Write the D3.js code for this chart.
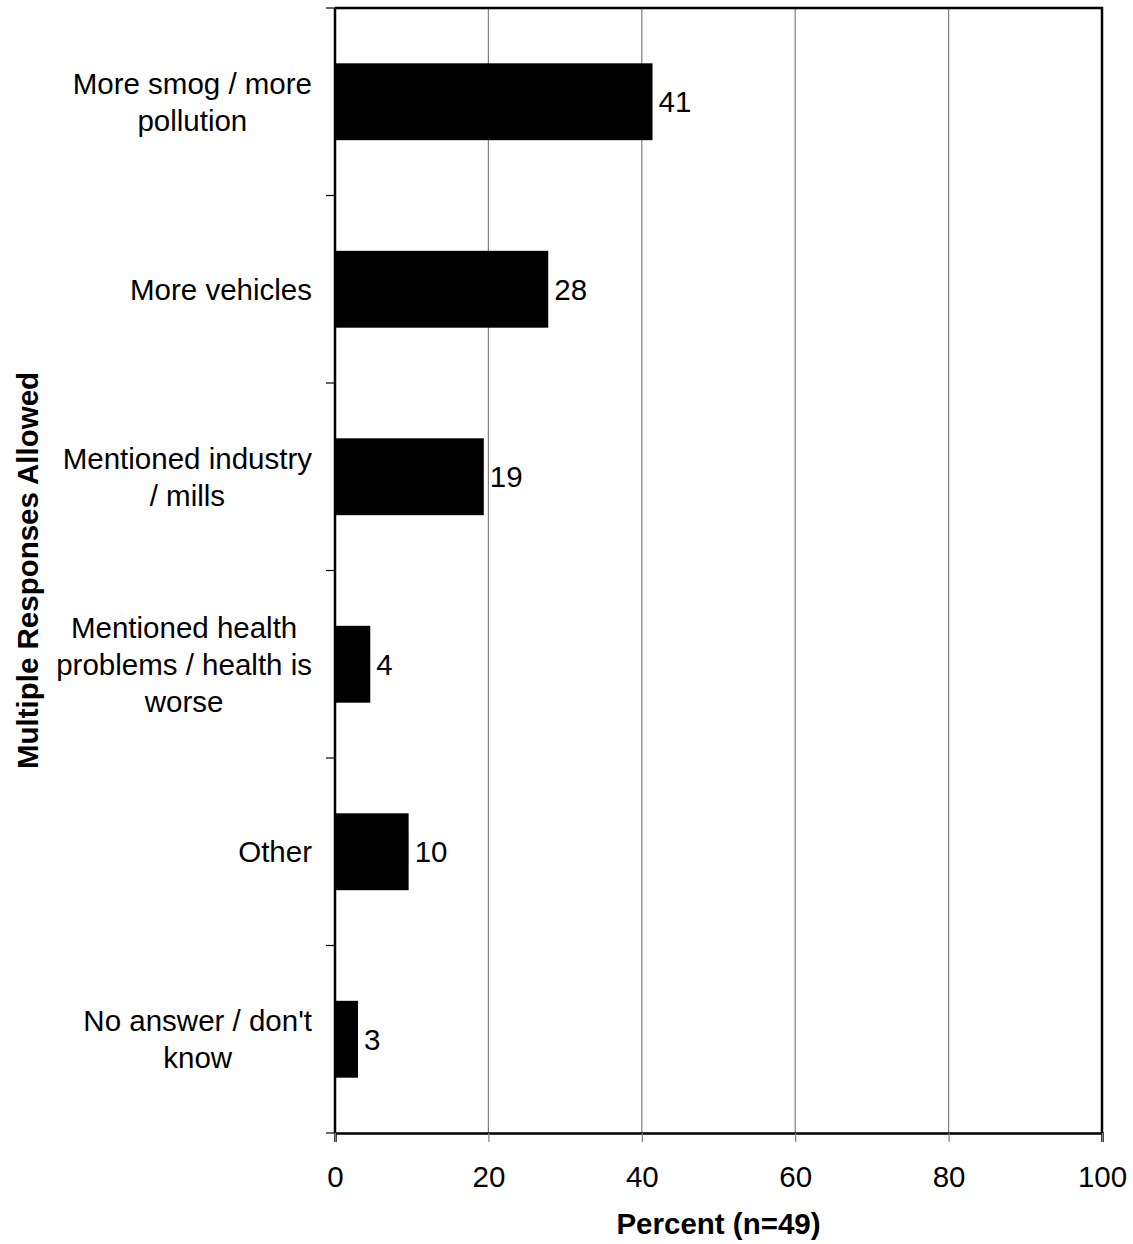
<!DOCTYPE html>
<html>
<head>
<meta charset="utf-8">
<script src="https://cdn.jsdelivr.net/npm/d3@7"></script>
<style>
  body { margin: 0; background: #fff; }
  text { font-family: "Liberation Sans", Arial, sans-serif; fill: #000; }
</style>
</head>
<body>
<div class="chart"></div>
<script>
var width = 1133, height = 1244;
var margin = { top: 8, right: 31, bottom: 110, left: 335 };
var fontSize = '29.5px';

// data
var categories = [
    ["More smog / more", "pollution"],
    ["More vehicles"],
    ["Mentioned industry", "/ mills"],
    ["Mentioned health", "problems / health is", "worse"],
    ["Other"],
    ["No answer / don't", "know"]
];
var values = [41.4, 27.8, 19.4, 4.6, 9.6, 3.0];
var valueLabels = ["41", "28", "19", "4", "10", "3"];
var xTicks = [0, 20, 40, 60, 80, 100];

var svg = d3.select('.chart')
    .append('svg')
    .attr('width', width)
    .attr('height', height);

var plotW = width - margin.left - margin.right;
var plotH = height - margin.top - margin.bottom - 1;

var g = svg.append('g')
    .attr('transform', 'translate(' + margin.left + ',' + margin.top + ')');

var x = d3.scaleLinear().domain([0, 100]).range([0, plotW]);
var y = d3.scaleBand()
    .domain(d3.range(categories.length))
    .range([0, plotH])
    .paddingInner(0.59)
    .paddingOuter(0.295);

// gridlines
g.selectAll('.grid')
    .data(xTicks.slice(1, -1))
    .enter()
    .append('line')
    .attr('x1', d => x(d)).attr('x2', d => x(d))
    .attr('y1', 0).attr('y2', plotH)
    .attr('stroke', '#808080')
    .attr('stroke-width', 1.2);

// bars
g.selectAll('.bar')
    .data(values)
    .enter()
    .append('rect')
    .attr('x', x(0))
    .attr('y', (d, i) => y(i))
    .attr('width', d => x(d) - x(0))
    .attr('height', y.bandwidth())
    .attr('fill', '#000');

// value labels
g.selectAll('.val')
    .data(values)
    .enter()
    .append('text')
    .attr('x', d => x(d) + 6)
    .attr('y', (d, i) => y(i) + y.bandwidth() / 2)
    .attr('dy', '0.35em')
    .style('font-size', fontSize)
    .text((d, i) => valueLabels[i]);

// frame: top and right
g.append('path')
    .attr('d', 'M0,0H' + plotW + 'V' + plotH)
    .attr('fill', 'none')
    .attr('stroke', '#000')
    .attr('stroke-width', 2.5);

// x axis
var xAxis = g.append('g')
    .attr('transform', 'translate(0,' + plotH + ')')
    .call(d3.axisBottom(x).tickValues(xTicks).tickSize(9).tickPadding(24));
xAxis.select('.domain').attr('stroke', '#000').attr('stroke-width', 2.5);
xAxis.selectAll('.tick line').attr('stroke', '#808080').attr('stroke-width', 1.2);
xAxis.selectAll('.tick text')
    .style('font-size', fontSize)
    .style('font-family', '"Liberation Sans", Arial, sans-serif');

// y axis: ticks on band boundaries
var bounds = d3.range(categories.length + 1).map(i => i * plotH / categories.length);
g.selectAll('.ytick')
    .data(bounds)
    .enter()
    .append('line')
    .attr('x1', -9).attr('x2', 0)
    .attr('y1', d => d).attr('y2', d => d)
    .attr('stroke', '#000')
    .attr('stroke-width', 1.2);
g.append('line')
    .attr('x1', 0).attr('x2', 0)
    .attr('y1', 0).attr('y2', plotH)
    .attr('stroke', '#000')
    .attr('stroke-width', 2.5);

// category labels: centred lines, block right-aligned to the axis
var lineH = 37;
var labels = g.selectAll('.cat')
    .data(categories)
    .enter()
    .append('text')
    .style('font-size', fontSize)
    .attr('text-anchor', 'middle');

labels.each(function (lines, i) {
    var t = d3.select(this);
    var cy = y(i) + y.bandwidth() / 2;
    lines.forEach(function (line, k) {
        t.append('tspan')
            .attr('y', cy + (k - (lines.length - 1) / 2) * lineH)
            .attr('dy', '0.35em')
            .text(line);
    });
    var maxW = d3.max(t.selectAll('tspan').nodes(), n => n.getComputedTextLength());
    t.selectAll('tspan').attr('x', -23 - maxW / 2);
});

// axis titles
svg.append('text')
    .attr('x', margin.left + plotW / 2)
    .attr('y', 1234)
    .attr('text-anchor', 'middle')
    .style('font-size', fontSize)
    .style('font-weight', 'bold')
    .text('Percent (n=49)');

svg.append('text')
    .attr('transform', 'translate(38,' + (margin.top + plotH / 2) + ') rotate(-90)')
    .attr('text-anchor', 'middle')
    .style('font-size', fontSize)
    .style('font-weight', 'bold')
    .text('Multiple Responses Allowed');
</script>
</body>
</html>
